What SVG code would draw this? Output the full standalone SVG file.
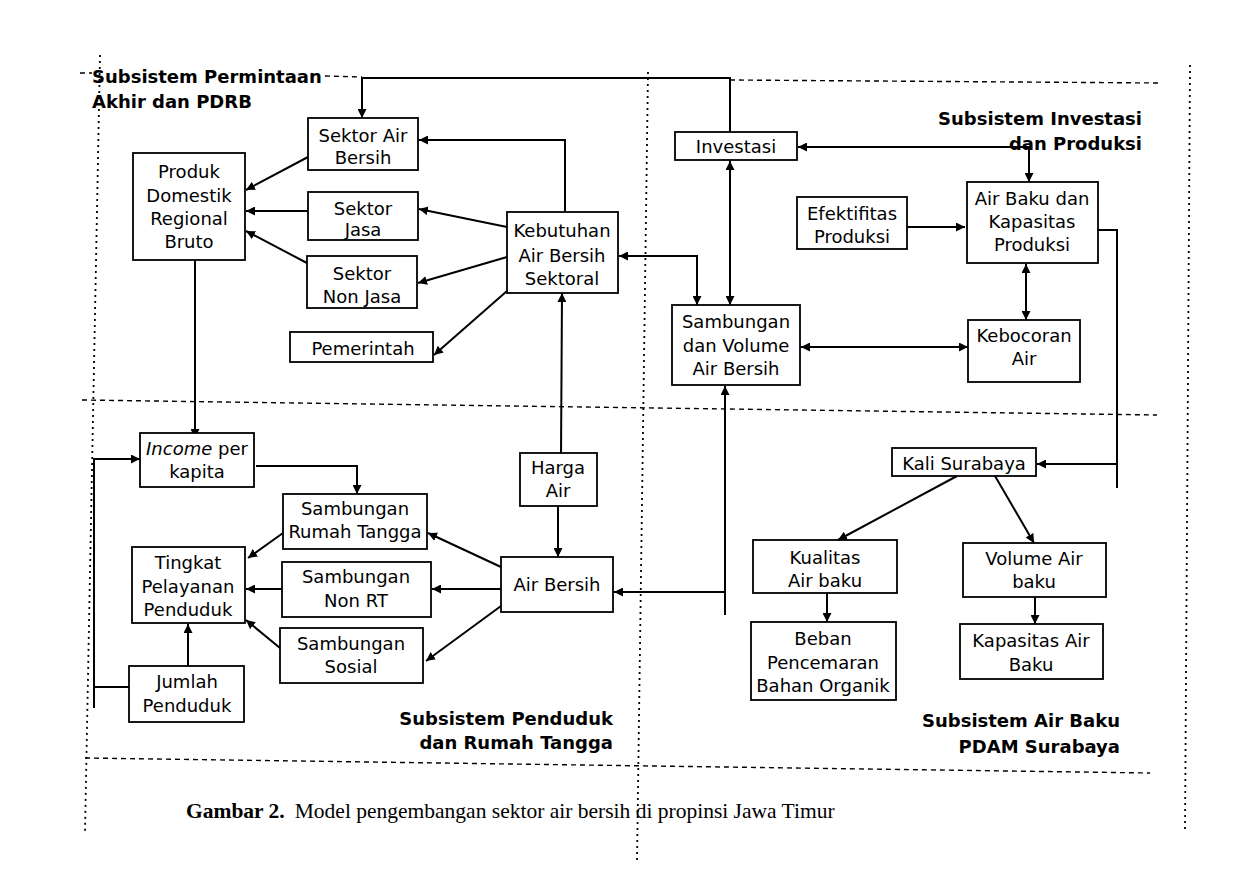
<svg xmlns="http://www.w3.org/2000/svg" width="1246" height="889" viewBox="0 0 1246 889">
<defs>
<style>
.bx{fill:#fff;stroke:#000;stroke-width:1.8}
.t{font-family:"DejaVu Sans",Verdana,sans-serif;font-size:18px;fill:#000;text-anchor:middle}
.h{font-family:"DejaVu Sans",Verdana,sans-serif;font-size:18px;font-weight:bold;fill:#000}
.c{fill:none;stroke:#000;stroke-width:2}
.dash{fill:none;stroke:#000;stroke-width:1.4;stroke-dasharray:5 4}
.dot{fill:none;stroke:#000;stroke-width:1.8;stroke-dasharray:2 4}
.cap{font-family:"Liberation Serif","Times New Roman",serif;font-size:21.5px;fill:#000}
</style>
<marker id="a" viewBox="0 0 10 10" refX="10" refY="5" markerWidth="9" markerHeight="9" markerUnits="userSpaceOnUse" orient="auto-start-reverse">
<path d="M0,0 L10,5 L0,10 z" fill="#000"/>
</marker>
</defs>
<rect width="1246" height="889" fill="#fff"/>

<g id="frame">
<line class="dash" x1="80" y1="73" x2="92" y2="73"/>
<line class="dash" x1="325" y1="76" x2="362" y2="77"/>
<line class="dash" x1="730" y1="80" x2="1160" y2="83"/>
<line class="dash" x1="82" y1="400" x2="1157" y2="415"/>
<line class="dash" x1="85" y1="758" x2="1150" y2="773"/>
<line class="dot" x1="100" y1="55" x2="85" y2="832"/>
<line class="dot" x1="648" y1="72" x2="637" y2="862"/>
<line class="dot" x1="1190" y1="65" x2="1185" y2="832"/>
</g>

<g id="titles">
<text class="h" x="92" y="83">Subsistem Permintaan</text>
<text class="h" x="92" y="108">Akhir dan PDRB</text>
<text class="h" x="1142" y="125" text-anchor="end">Subsistem Investasi</text>
<text class="h" x="1142" y="150" text-anchor="end">dan Produksi</text>
<text class="h" x="613" y="725" text-anchor="end">Subsistem Penduduk</text>
<text class="h" x="613" y="749" text-anchor="end">dan Rumah Tangga</text>
<text class="h" x="1120" y="727" text-anchor="end">Subsistem Air Baku</text>
<text class="h" x="1120" y="753" text-anchor="end">PDAM Surabaya</text>
</g>

<g id="connectors">
<polyline class="c" points="730,132 730,78 362,78 362,118" marker-end="url(#a)"/>
<polyline class="c" points="565,212 565,140 419,140" marker-end="url(#a)"/>
<line class="c" x1="507" y1="227" x2="419" y2="209" marker-end="url(#a)"/>
<line class="c" x1="507" y1="257" x2="418" y2="283" marker-end="url(#a)"/>
<line class="c" x1="507" y1="291" x2="434" y2="355" marker-end="url(#a)"/>
<line class="c" x1="308" y1="157" x2="246" y2="190" marker-end="url(#a)"/>
<line class="c" x1="308" y1="211" x2="246" y2="211" marker-end="url(#a)"/>
<line class="c" x1="307" y1="263" x2="246" y2="231" marker-end="url(#a)"/>
<line class="c" x1="195" y1="250" x2="195" y2="438" marker-end="url(#a)"/>
<polyline class="c" points="256,466 357,466 357,494" marker-end="url(#a)"/>
<path class="c" d="M129,687 H94 M94,708 V459 H140" marker-end="url(#a)"/>
<line class="c" x1="283" y1="533" x2="248" y2="558" marker-end="url(#a)"/>
<line class="c" x1="282" y1="589" x2="246" y2="589" marker-end="url(#a)"/>
<line class="c" x1="280" y1="648" x2="246" y2="620" marker-end="url(#a)"/>
<line class="c" x1="188" y1="666" x2="188" y2="624" marker-end="url(#a)"/>
<line class="c" x1="501" y1="567" x2="428" y2="533" marker-end="url(#a)"/>
<line class="c" x1="501" y1="589" x2="432" y2="589" marker-end="url(#a)"/>
<line class="c" x1="501" y1="606" x2="426" y2="661" marker-end="url(#a)"/>
<line class="c" x1="558" y1="506" x2="558" y2="557" marker-end="url(#a)"/>
<line class="c" x1="561" y1="455" x2="562" y2="293" marker-end="url(#a)"/>
<polyline class="c" points="619,256 697,256 697,305" marker-start="url(#a)" marker-end="url(#a)"/>
<line class="c" x1="730" y1="161" x2="730" y2="305" marker-start="url(#a)" marker-end="url(#a)"/>
<polyline class="c" points="798,147 1029,147 1029,182" marker-start="url(#a)" marker-end="url(#a)"/>
<line class="c" x1="907" y1="227" x2="965" y2="227" marker-end="url(#a)"/>
<line class="c" x1="1026" y1="264" x2="1026" y2="320" marker-start="url(#a)" marker-end="url(#a)"/>
<line class="c" x1="801" y1="347" x2="968" y2="347" marker-start="url(#a)" marker-end="url(#a)"/>
<polyline class="c" points="1098,230 1117,230 1117,488"/>
<line class="c" x1="1117" y1="464" x2="1037" y2="464" marker-end="url(#a)"/>
<line class="c" x1="725" y1="615" x2="725" y2="386" marker-end="url(#a)"/>
<line class="c" x1="725" y1="592" x2="614" y2="592" marker-end="url(#a)"/>
<line class="c" x1="957" y1="476" x2="838" y2="540" marker-end="url(#a)"/>
<line class="c" x1="995" y1="476" x2="1034" y2="543" marker-end="url(#a)"/>
<line class="c" x1="827" y1="583" x2="827" y2="622" marker-end="url(#a)"/>
<line class="c" x1="1035" y1="588" x2="1035" y2="624" marker-end="url(#a)"/>
</g>

<g id="sektor-air-bersih"><rect class="bx" x="308" y="118" width="110" height="52"/><text class="t" x="363" y="142">Sektor Air</text><text class="t" x="363" y="164">Bersih</text></g>
<g id="pdrb"><rect class="bx" x="133" y="153" width="112" height="107"/><text class="t" x="189" y="178">Produk</text><text class="t" x="189" y="202">Domestik</text><text class="t" x="189" y="225">Regional</text><text class="t" x="189" y="248">Bruto</text></g>
<g id="sektor-jasa"><rect class="bx" x="308" y="192" width="110" height="48"/><text class="t" x="363" y="215">Sektor</text><text class="t" x="363" y="236">Jasa</text></g>
<g id="sektor-non-jasa"><rect class="bx" x="307" y="256" width="110" height="52"/><text class="t" x="362" y="280">Sektor</text><text class="t" x="362" y="303">Non Jasa</text></g>
<g id="pemerintah"><rect class="bx" x="290" y="332" width="143" height="30"/><text class="t" x="363" y="355">Pemerintah</text></g>
<g id="kebutuhan"><rect class="bx" x="507" y="212" width="111" height="81"/><text class="t" x="562" y="237">Kebutuhan</text><text class="t" x="562" y="262">Air Bersih</text><text class="t" x="562" y="285">Sektoral</text></g>
<g id="investasi"><rect class="bx" x="675" y="132" width="122" height="28"/><text class="t" x="736" y="153">Investasi</text></g>
<g id="efektifitas"><rect class="bx" x="797" y="197" width="110" height="52"/><text class="t" x="852" y="220">Efektifitas</text><text class="t" x="852" y="243">Produksi</text></g>
<g id="air-baku-kapasitas"><rect class="bx" x="967" y="182" width="131" height="81"/><text class="t" x="1032" y="205">Air Baku dan</text><text class="t" x="1032" y="228">Kapasitas</text><text class="t" x="1032" y="251">Produksi</text></g>
<g id="sambungan-volume"><rect class="bx" x="672" y="305" width="128" height="80"/><text class="t" x="736" y="328">Sambungan</text><text class="t" x="736" y="352">dan Volume</text><text class="t" x="736" y="375">Air Bersih</text></g>
<g id="kebocoran"><rect class="bx" x="968" y="320" width="112" height="62"/><text class="t" x="1024" y="342">Kebocoran</text><text class="t" x="1024" y="365">Air</text></g>
<g id="kali-surabaya"><rect class="bx" x="892" y="448" width="144" height="28"/><text class="t" x="964" y="470">Kali Surabaya</text></g>
<g id="volume-air-baku"><rect class="bx" x="963" y="543" width="143" height="54"/><text class="t" x="1034" y="565">Volume Air</text><text class="t" x="1034" y="588">baku</text></g>
<g id="kapasitas-air-baku"><rect class="bx" x="960" y="624" width="143" height="55"/><text class="t" x="1031" y="647">Kapasitas Air</text><text class="t" x="1031" y="671">Baku</text></g>
<g id="harga-air"><rect class="bx" x="520" y="453" width="77" height="53"/><text class="t" x="558" y="474">Harga</text><text class="t" x="558" y="497">Air</text></g>
<g id="kualitas"><rect class="bx" x="753" y="540" width="144" height="53"/><text class="t" x="825" y="564">Kualitas</text><text class="t" x="825" y="587">Air baku</text></g>
<g id="beban"><rect class="bx" x="751" y="622" width="145" height="78"/><text class="t" x="823" y="645">Beban</text><text class="t" x="823" y="669">Pencemaran</text><text class="t" x="823" y="692">Bahan Organik</text></g>
<g id="air-bersih"><rect class="bx" x="501" y="557" width="112" height="55"/><text class="t" x="557" y="591">Air Bersih</text></g>
<g id="income"><rect class="bx" x="140" y="433" width="114" height="54"/><text class="t" x="197" y="455"><tspan font-style="italic">Income</tspan> per</text><text class="t" x="197" y="478">kapita</text></g>
<g id="sambungan-rt"><rect class="bx" x="283" y="494" width="144" height="55"/><text class="t" x="355" y="515">Sambungan</text><text class="t" x="355" y="538">Rumah Tangga</text></g>
<g id="tingkat"><rect class="bx" x="132" y="547" width="113" height="76"/><text class="t" x="188" y="569">Tingkat</text><text class="t" x="188" y="593">Pelayanan</text><text class="t" x="188" y="616">Penduduk</text></g>
<g id="sambungan-non-rt"><rect class="bx" x="282" y="562" width="149" height="55"/><text class="t" x="356" y="583">Sambungan</text><text class="t" x="356" y="607">Non RT</text></g>
<g id="sambungan-sosial"><rect class="bx" x="280" y="628" width="143" height="55"/><text class="t" x="351" y="650">Sambungan</text><text class="t" x="351" y="673">Sosial</text></g>
<g id="jumlah-penduduk"><rect class="bx" x="129" y="666" width="115" height="56"/><text class="t" x="187" y="688">Jumlah</text><text class="t" x="187" y="712">Penduduk</text></g>

<g id="caption"><text class="cap" x="186" y="818"><tspan font-weight="bold">Gambar 2.</tspan><tspan dx="10">Model pengembangan sektor air bersih di propinsi Jawa Timur</tspan></text></g>
</svg>
